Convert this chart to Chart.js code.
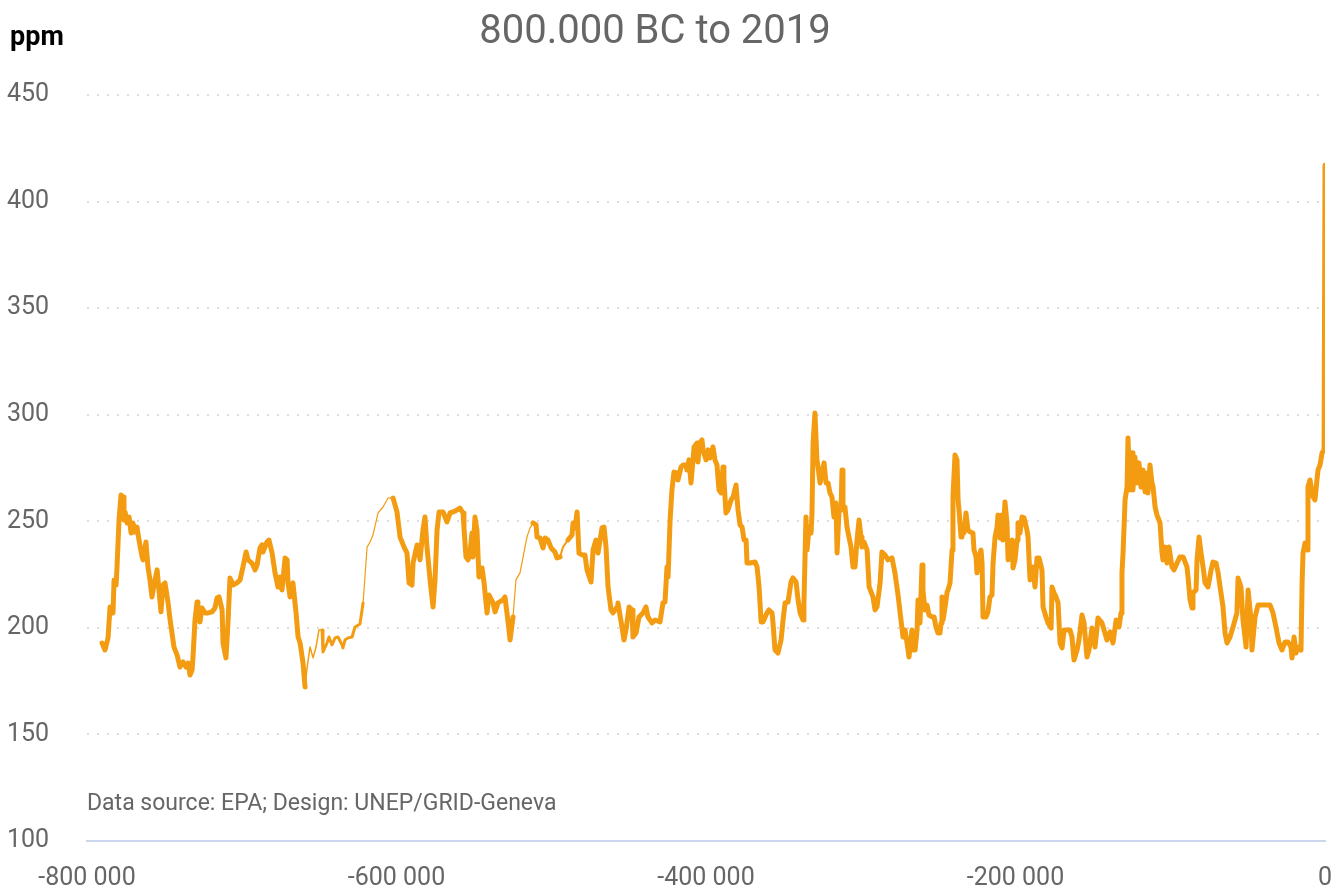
<!DOCTYPE html>
<html>
<head>
<meta charset="utf-8">
<script src="https://cdn.jsdelivr.net/npm/chart.js@4"></script>
<style>
  body { margin: 0; background: #fff; overflow: hidden; }
  canvas { display: block; }
</style>
</head>
<body>
<canvas id="myCanvas" width="1331" height="888"></canvas>
<script>
// thousand years before present (0 = 2019)
let kyr = [
  -790.3,-788.4,-786.4,-785.1,-783.2,-782.5,-781.2,-780.6,-779.3,-778.0,
  -776.7,-776.1,-775.4,-774.1,-772.8,-771.5,-770.3,-769.0,-767.7,-766.4,
  -764.4,-763.8,-761.9,-760.6,-759.3,-758.0,-756.7,-754.7,-754.1,-752.2,
  -750.9,-749.6,-747.6,-746.3,-745.1,-743.8,-741.8,-739.9,-737.9,-736.0,
  -734.7,-733.4,-732.1,-731.5,-730.2,-728.9,-728.3,-727.0,-725.7,-723.7,
  -721.8,-719.2,-717.3,-716.0,-714.7,-712.7,-712.1,-710.2,-708.9,-707.6,
  -705.6,-703.1,-701.1,-699.2,-697.2,-695.9,-693.4,-691.4,-690.1,-688.2,
  -686.9,-686.3,-683.7,-682.4,-680.4,-678.5,-676.6,-675.3,-674.0,-672.0,
  -670.7,-670.1,-668.8,-666.9,-664.9,-663.6,-662.3,-660.4,-659.1,-657.8,
  -655.9,-653.9,-652.0,-650.1,-648.1,-647.5,-644.9,-643.6,-641.7,-639.7,
  -637.8,-635.2,-634.6,-633.3,-631.3,-628.7,-626.8,-623.6,-621.6,-619.0,
  -617.1,-615.2,-611.9,-608.7,-605.5,-602.2,-599.7,-597.7,-595.1,-593.2,
  -591.9,-590.0,-589.3,-586.7,-586.1,-584.8,-582.9,-581.6,-580.3,-578.3,
  -576.4,-575.1,-573.8,-572.5,-569.9,-567.4,-565.4,-563.5,-560.9,-559.0,
  -557.0,-556.4,-555.1,-553.8,-552.5,-551.2,-550.6,-549.3,-548.0,-546.7,
  -544.7,-543.4,-541.5,-540.2,-537.6,-536.3,-534.4,-531.2,-529.9,-527.9,
  -526.6,-524.7,-522.8,-520.2,-515.7,-513.7,-511.8,-509.8,-509.2,-507.3,
  -505.3,-504.0,-502.1,-500.1,-497.6,-496.3,-494.3,-492.4,-489.2,-486.6,
  -485.9,-484.6,-483.3,-482.1,-480.1,-478.2,-476.9,-474.3,-473.0,-471.1,
  -469.8,-467.2,-465.9,-464.6,-463.3,-461.4,-460.1,-457.5,-456.9,-454.3,
  -453.0,-451.7,-449.7,-447.8,-447.2,-445.2,-443.3,-440.7,-438.8,-437.5,
  -434.9,-432.9,-429.7,-427.8,-426.5,-425.2,-424.5,-423.2,-422.0,-420.7,
  -418.7,-418.1,-416.1,-414.8,-412.9,-412.3,-411.0,-409.7,-408.4,-407.7,
  -405.8,-405.2,-403.9,-402.6,-401.9,-400.0,-398.7,-397.4,-395.5,-394.2,
  -392.9,-391.6,-390.3,-389.0,-388.4,-387.1,-385.8,-383.8,-382.5,-380.6,
  -379.3,-378.0,-376.7,-375.4,-374.1,-373.5,-371.6,-368.3,-367.0,-365.7,
  -364.4,-363.2,-360.6,-359.3,-357.3,-356.7,-355.4,-353.5,-351.5,-350.2,
  -348.9,-347.0,-345.1,-343.8,-341.8,-340.5,-339.2,-337.3,-336.7,-335.4,
  -334.7,-333.4,-332.1,-331.5,-330.8,-329.6,-328.3,-327.6,-326.3,-325.0,
  -323.7,-322.4,-321.1,-319.9,-318.6,-317.3,-316.0,-315.3,-314.0,-312.7,
  -312.1,-311.5,-310.2,-308.9,-307.6,-306.3,-305.0,-303.7,-302.4,-301.1,
  -299.8,-299.2,-297.9,-295.9,-294.6,-292.1,-290.8,-289.5,-287.5,-286.3,
  -284.3,-282.4,-279.8,-277.9,-275.9,-274.0,-272.7,-271.4,-270.1,-268.8,
  -266.9,-266.2,-264.9,-263.6,-263.0,-261.7,-260.4,-259.8,-258.5,-257.2,
  -255.9,-253.9,-252.6,-251.4,-250.1,-248.8,-248.1,-247.5,-246.8,-245.5,
  -244.2,-243.6,-242.3,-241.0,-240.4,-239.1,-237.8,-237.1,-236.5,-235.2,
  -234.6,-233.3,-232.0,-230.7,-229.4,-227.5,-226.8,-225.5,-224.9,-223.6,
  -222.3,-221.6,-221.0,-219.1,-217.8,-216.5,-215.2,-214.5,-213.2,-211.9,
  -211.3,-210.0,-208.7,-208.1,-206.8,-205.5,-204.8,-203.5,-202.2,-201.6,
  -200.3,-199.0,-198.4,-197.1,-195.8,-194.5,-192.6,-191.9,-190.6,-189.3,
  -188.7,-187.4,-186.1,-184.8,-182.9,-182.2,-180.3,-179.0,-177.0,-176.4,
  -175.1,-173.8,-172.5,-171.2,-169.9,-168.6,-166.7,-164.8,-163.5,-162.2,
  -160.2,-159.0,-157.0,-155.7,-153.8,-152.5,-150.6,-148.6,-146.7,-144.1,
  -142.2,-140.9,-138.9,-137.0,-135.0,-133.1,-131.8,-131.2,-130.5,-129.2,
  -127.9,-127.3,-126.0,-124.7,-124.1,-122.8,-121.5,-120.2,-118.9,-117.6,
  -116.3,-115.0,-114.4,-113.1,-111.8,-111.1,-109.8,-108.6,-106.6,-105.3,
  -104.7,-103.4,-102.1,-100.8,-98.9,-97.6,-95.6,-93.7,-91.7,-89.2,
  -88.5,-87.2,-85.9,-85.3,-83.3,-82.7,-81.4,-80.1,-78.8,-77.5,
  -75.6,-73.6,-72.4,-70.4,-69.1,-67.8,-65.9,-64.6,-63.3,-61.4,
  -59.4,-56.9,-56.2,-54.3,-53.0,-51.0,-49.7,-47.8,-47.2,-45.2,
  -43.3,-40.7,-35.5,-33.6,-31.7,-29.7,-27.8,-25.8,-23.9,-22.0,
  -21.3,-20.0,-18.7,-17.4,-15.5,-14.8,-14.2,-12.9,-11.6,-11.0,
  -9.7,-8.4,-7.7,-6.5,-5.2,-4.5,-3.2,-1.9,-0.6,0
];

// CO2 concentration, ppm
let ppm = [
  192.9,189.6,195.3,209.8,207.0,222.5,220.1,228.6,250.6,262.3,
  261.4,250.6,254.4,249.2,252.0,244.5,249.2,245.0,247.3,241.2,
  233.3,231.9,240.3,228.6,222.5,214.5,220.1,227.2,222.5,207.5,
  220.1,221.1,211.7,203.7,197.6,191.0,187.3,181.6,184.0,181.6,
  183.5,177.9,180.2,186.3,203.7,212.1,207.5,202.8,209.3,207.0,
  207.0,207.5,209.3,214.0,214.5,208.4,192.9,185.9,202.3,223.4,
  220.1,221.1,222.5,228.6,235.6,231.9,230.4,227.2,229.5,237.5,
  238.9,235.6,240.3,241.2,235.1,225.8,219.2,223.9,217.8,232.8,
  231.9,221.1,214.5,221.1,207.0,195.7,192.9,183.5,172.3,181.2,
  191.0,185.9,191.0,199.0,199.0,188.7,192.9,195.7,192.0,195.3,
  195.7,192.0,190.6,194.3,195.3,195.7,200.4,201.8,211.7,237.9,
  240.3,243.6,253.9,256.7,260.9,260.9,254.4,242.6,237.9,235.1,
  221.1,220.1,230.4,238.9,237.9,231.9,245.9,252.0,237.9,222.5,
  209.8,222.5,245.9,254.4,254.4,249.7,253.9,254.4,255.3,256.2,
  253.9,246.9,233.3,231.9,235.6,244.5,233.3,252.0,245.9,223.9,
  228.1,221.1,207.0,215.4,211.7,207.5,211.7,213.1,214.5,202.8,
  194.3,205.1,222.5,225.8,242.6,246.9,249.2,248.3,242.6,242.2,
  237.5,242.2,241.2,237.5,235.6,232.8,233.3,237.9,241.2,243.6,
  249.2,246.9,254.4,235.1,234.2,234.2,227.2,221.5,236.5,241.2,
  235.1,246.9,247.3,237.9,219.2,208.4,207.0,209.8,211.7,200.4,
  194.3,199.0,209.8,208.4,195.7,197.6,205.1,207.0,209.8,205.1,
  202.3,203.7,202.8,211.7,212.1,228.6,223.9,250.6,264.7,273.1,
  272.7,269.4,275.5,276.4,276.4,274.1,278.8,268.0,278.8,284.9,
  286.7,277.8,286.7,288.2,283.5,278.8,283.5,279.7,284.9,278.8,
  276.4,264.7,263.3,275.5,269.4,253.9,255.3,260.0,261.4,267.0,
  255.3,248.3,247.3,241.2,241.2,230.4,230.4,230.9,228.6,219.2,
  202.8,202.8,207.0,208.4,207.0,202.3,189.6,188.2,194.3,203.7,
  211.7,212.1,221.5,223.4,221.5,213.1,207.0,203.7,211.7,252.0,
  236.5,247.3,244.5,253.9,286.7,300.8,278.8,275.5,268.0,272.7,
  277.4,268.0,268.0,263.3,261.4,252.0,258.6,235.1,255.3,256.7,
  274.1,255.3,256.7,247.3,242.6,237.9,228.6,228.6,241.2,250.6,
  242.6,237.9,240.3,236.5,219.2,214.5,208.4,209.8,221.1,235.6,
  234.2,231.9,232.8,225.8,215.4,203.7,195.7,199.0,192.9,186.3,
  199.0,189.6,189.6,199.0,213.1,202.3,229.5,217.8,208.4,210.7,
  206.0,205.1,205.1,200.4,197.6,197.6,202.3,214.5,203.7,209.8,
  216.8,217.8,221.1,236.5,261.4,281.1,278.8,260.0,255.3,242.6,
  247.3,244.5,253.9,245.9,245.0,244.5,236.5,233.3,225.8,233.3,
  236.5,230.4,205.1,205.1,207.5,214.5,215.4,230.4,242.6,247.3,
  253.0,242.2,253.0,241.2,259.1,249.2,231.9,239.8,241.2,228.1,
  231.9,241.2,249.2,244.5,252.0,251.6,245.9,242.6,222.5,223.9,
  228.6,219.2,232.8,232.8,227.2,209.8,205.1,202.3,199.9,219.2,
  216.4,214.5,211.7,192.9,190.6,199.0,199.0,199.0,195.7,184.9,
  189.6,194.3,206.0,202.3,186.3,189.6,199.9,191.0,204.6,202.3,
  197.6,194.3,198.1,192.9,203.7,200.4,207.0,225.8,235.1,260.0,
  266.1,289.1,264.7,282.1,264.7,280.2,268.0,277.4,266.1,274.1,
  263.8,272.7,263.3,276.4,268.0,266.1,256.7,253.0,249.2,235.1,
  231.9,237.9,230.4,237.9,228.6,227.2,230.4,233.3,233.3,228.6,
  223.9,213.1,209.3,216.4,217.8,231.9,242.6,235.1,228.6,221.1,
  219.2,227.2,230.9,230.4,225.8,219.2,209.8,197.6,192.9,195.7,
  200.4,207.0,223.4,219.2,203.7,191.0,217.8,203.7,189.6,205.1,
  210.7,210.7,210.7,207.0,200.4,192.9,189.6,193.4,193.4,191.0,
  185.9,195.7,188.2,191.0,189.6,221.1,235.1,239.8,236.5,266.1,
  269.4,263.8,261.4,260.0,269.4,274.1,276.4,282.1,283.5,417
];

let xTicks = [-800000, -600000, -400000, -200000, 0];
let yTicks = [100, 150, 200, 250, 300, 350, 400, 450];

let titleText = "800.000 BC to 2019";
let unitText = "ppm";
let sourceText = "Data source: EPA; Design: UNEP/GRID-Geneva";

// parts of the record drawn with a thinner stroke
let thinSpans = [
  [-659100, -648100, 1.5],
  [-648100, -621600, 3],
  [-621600, -602200, 1.2],
  [-524700, -511800, 1.2],
  [-494300, -489200, 2],
];

function spaced(v) {
  return String(v).replace(/\B(?=(\d{3})+(?!\d))/g, " ");
}

let points = kyr.map((k, i) => ({ x: Math.round(k * 1000), y: ppm[i] }));

let textPlugin = {
  id: "texts",
  afterDraw(chart) {
    let c = chart.ctx;
    c.save();
    c.textBaseline = "middle";
    c.fillStyle = "#666666";
    c.font = "40px Roboto";
    c.textAlign = "center";
    c.fillText(titleText, 655, 33);
    c.fillStyle = "#000000";
    c.font = "bold 27px Roboto";
    c.textAlign = "left";
    c.fillText(unitText, 10, 38);
    c.fillStyle = "#666666";
    c.font = "23px Roboto";
    c.fillText(sourceText, chart.chartArea.left, 804);
    c.restore();
  },
};

function draw() {
  let myCanvas = document.getElementById("myCanvas").getContext("2d");
  new Chart(myCanvas, {
    type: "line",
    data: {
      datasets: [
        {
          data: points,
          borderColor: "#f39c12",
          borderWidth: 5,
          pointRadius: 0,
          tension: 0,
          borderJoinStyle: "round",
          borderCapStyle: "round",
          segment: {
            borderWidth: (ctx) => {
              let mid = (ctx.p0.parsed.x + ctx.p1.parsed.x) / 2;
              for (let s of thinSpans) {
                if (mid > s[0] && mid < s[1]) return s[2];
              }
              return undefined;
            },
          },
        },
      ],
    },
    options: {
      responsive: false,
      animation: false,
      layout: { padding: { top: 95, left: 7, right: 0, bottom: 0 } },
      plugins: {
        legend: { display: false },
        tooltip: { enabled: false },
      },
      scales: {
        x: {
          type: "linear",
          min: -800000,
          max: 0,
          afterBuildTicks: (scale) => {
            scale.ticks = xTicks.map((v) => ({ value: v }));
          },
          afterFit: (scale) => {
            scale.height = 47;
            scale.paddingRight = 6;
            scale.paddingLeft = 0;
          },
          grid: { display: false, drawTicks: false },
          border: { display: true, color: "#c9d6ee", width: 2 },
          ticks: {
            color: "#666666",
            font: { family: "Roboto", size: 25 },
            padding: 23,
            maxRotation: 0,
            callback: (v) => spaced(v),
          },
        },
        y: {
          min: 100,
          max: 450,
          afterBuildTicks: (scale) => {
            scale.ticks = yTicks.map((v) => ({ value: v }));
          },
          afterFit: (scale) => {
            scale.width = 80;
          },
          grid: {
            drawTicks: false,
            lineWidth: 2,
            color: (ctx) => (ctx.tick && ctx.tick.value === 100 ? "rgba(0,0,0,0)" : "#dddddd"),
          },
          border: { display: false, dash: [2, 8] },
          ticks: {
            color: "#666666",
            font: { family: "Roboto", size: 25 },
            crossAlign: "far",
            padding: 0,
          },
        },
      },
    },
    plugins: [textPlugin],
  });
}

Promise.all([
  document.fonts.load("25px Roboto"),
  document.fonts.load("bold 27px Roboto"),
]).then(draw, draw);
</script>
</body>
</html>
